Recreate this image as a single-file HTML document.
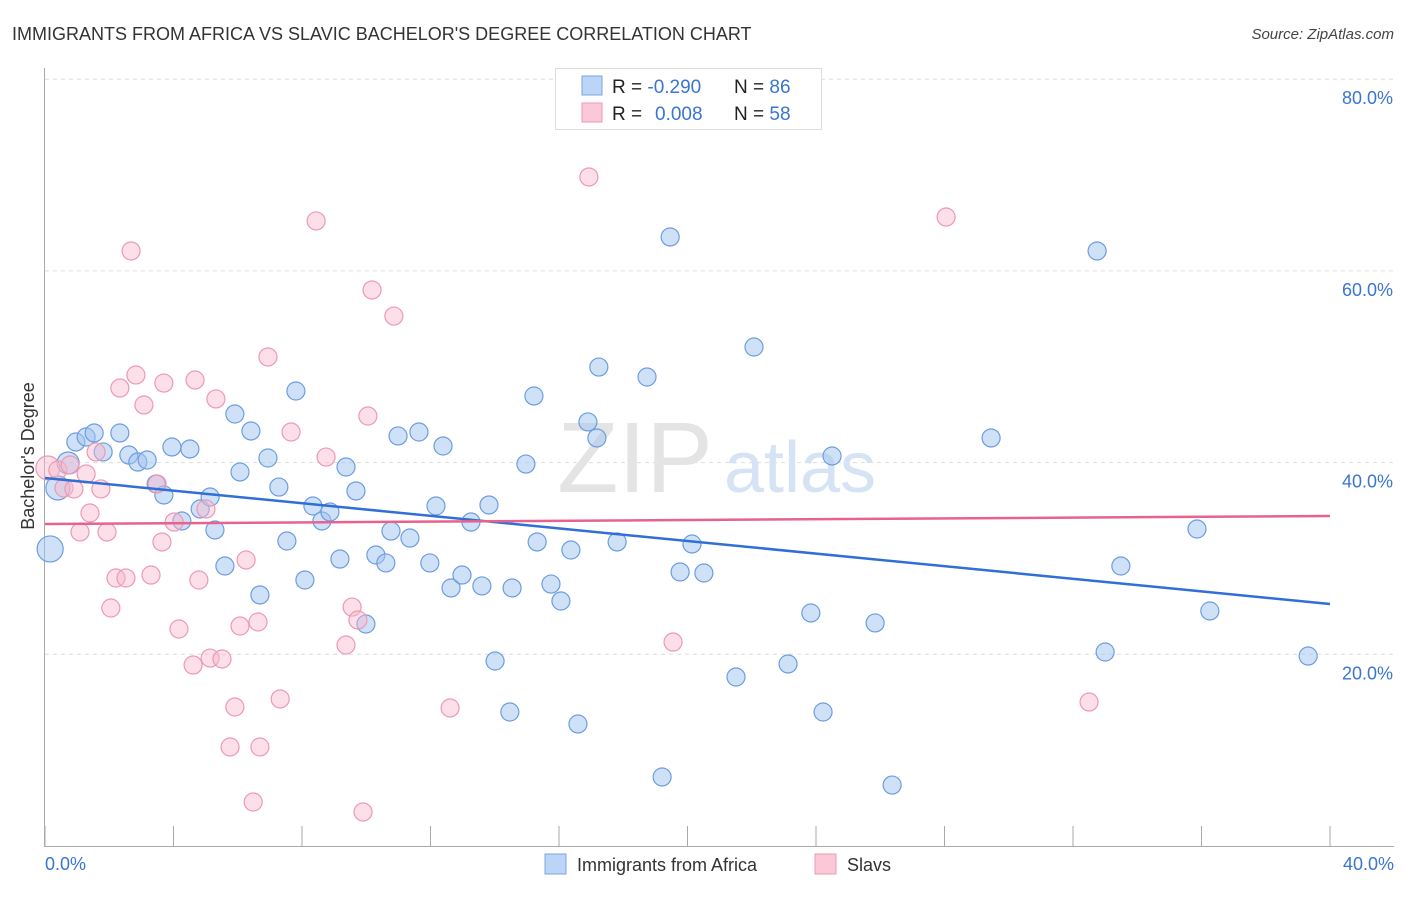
<!DOCTYPE html>
<html><head><meta charset="utf-8"><style>
body{margin:0;background:#fff;font-family:"Liberation Sans",sans-serif;}
svg text{font-family:"Liberation Sans",sans-serif;}
</style></head><body>
<svg id="chart" width="1406" height="892" xmlns="http://www.w3.org/2000/svg">
<text x="12" y="40" font-size="18" fill="#333">IMMIGRANTS FROM AFRICA VS SLAVIC BACHELOR'S DEGREE CORRELATION CHART</text>
<text x="1394" y="39" font-size="15" fill="#444" text-anchor="end" font-style="italic">Source: ZipAtlas.com</text>
<g id="grid"></g>
<text x="635" y="492" font-size="100" fill="#e4e4e4" font-family="Liberation Serif" text-anchor="middle">ZIP</text>
<text x="800" y="492" font-size="72" fill="#d6e3f5" text-anchor="middle">atlas</text>
<g id="pts"></g>
<g id="trends"></g>
<text transform="translate(34,456) rotate(-90)" font-size="18" fill="#333" text-anchor="middle">Bachelor's Degree</text>
<text x="45" y="870" font-size="18" fill="#3a75d0">0.0%</text>
<text x="1394" y="870" font-size="18" fill="#3a75d0" text-anchor="end">40.0%</text>
<g>
<rect x="555.5" y="68.5" width="266" height="61" fill="#fff" stroke="#ddd"/>
<rect x="582" y="76" width="20" height="19" fill="#bcd4f5" stroke="#7aa6e0"/>
<rect x="582" y="103" width="20" height="19" fill="#fbc8d8" stroke="#eb9ab4"/>
<text x="612" y="93" font-size="19" fill="#222">R = <tspan fill="#3a75d0">-0.290</tspan><tspan x="734">N = </tspan><tspan fill="#3a75d0">86</tspan></text>
<text x="612" y="120" font-size="19" fill="#222">R = <tspan x="655" fill="#3a75d0">0.008</tspan><tspan x="734">N = </tspan><tspan fill="#3a75d0">58</tspan></text>
</g>
<g>
<rect x="545" y="854" width="21" height="20" fill="#bcd4f5" stroke="#7aa6e0"/>
<text x="577" y="871" font-size="18" fill="#333">Immigrants from Africa</text>
<rect x="815" y="854" width="21" height="20" fill="#fbc8d8" stroke="#eb9ab4"/>
<text x="847" y="871" font-size="18" fill="#333">Slavs</text>
</g>
</svg>
<script>
const yTicks=[20,40,60,80];
const yTickLabels=["20.0%","40.0%","60.0%","80.0%"];
const xTicks=[0,4,8,12,16,20,24,28,32,36,40];
const blueX=[0.16,0.40,0.72,0.96,1.28,1.53,1.81,2.33,2.61,2.89,3.18,3.46,3.70,3.95,4.26,4.51,4.83,5.14,5.29,5.60,5.91,6.07,6.41,6.69,6.94,7.28,7.53,7.81,8.09,8.34,8.62,8.87,9.18,9.37,9.68,9.99,10.30,10.61,10.77,10.99,11.36,11.64,11.98,12.17,12.39,12.64,12.98,13.26,13.60,13.82,14.01,14.47,14.54,14.97,15.22,15.32,15.75,16.06,16.37,16.59,16.90,17.18,17.24,17.81,18.74,19.21,19.46,19.77,20.14,20.51,21.51,22.07,23.13,23.84,24.22,24.50,25.84,26.37,29.45,32.75,33.00,33.49,35.86,36.26,39.32];
const blueY=[30.99,37.35,39.96,42.15,42.67,43.09,41.11,43.09,40.79,40.06,40.27,37.77,36.62,41.63,33.91,41.42,35.16,36.41,32.97,29.21,45.07,39.02,43.30,26.19,40.48,37.45,31.82,47.47,27.75,35.47,33.91,34.85,29.94,39.54,37.04,23.16,30.36,29.53,32.86,42.78,32.13,43.19,29.53,35.47,41.73,26.92,28.27,33.80,27.13,35.58,19.30,13.98,26.92,39.85,46.95,31.72,27.33,25.56,30.88,12.73,44.24,42.57,49.97,31.72,48.93,7.20,63.54,28.59,31.51,28.48,17.63,52.06,18.99,24.31,13.98,40.69,23.27,6.36,42.57,62.08,20.24,29.21,33.07,24.52,19.82];
const blueBig=[13,12,11];
const pinkX=[0.09,0.40,0.59,0.78,0.90,1.09,1.28,1.40,1.59,1.74,1.93,2.05,2.21,2.33,2.52,2.68,2.83,3.08,3.30,3.49,3.64,3.70,4.02,4.17,4.61,4.67,4.79,5.01,5.14,5.32,5.51,5.76,5.91,6.07,6.26,6.48,6.63,6.69,6.94,7.32,7.66,8.44,8.75,9.37,9.56,9.74,9.90,10.05,10.18,10.86,12.61,16.93,19.55,28.05,32.50];
const pinkY=[39.44,39.23,37.35,39.75,37.25,32.76,38.81,34.74,41.11,37.25,32.76,24.83,27.96,47.78,27.96,62.08,49.14,46.01,28.27,37.77,31.72,48.30,33.80,22.64,18.88,48.62,27.75,35.16,19.61,46.64,19.51,10.33,14.50,22.95,29.84,4.59,23.37,10.33,51.02,15.34,43.19,65.21,40.58,20.97,24.93,23.58,3.55,44.86,58.01,55.29,14.40,69.80,21.28,65.62,15.02];
const pinkBig=[12];
const blueTrend=[38.39,25.25];
const pinkTrend=[33.59,34.43];
const X=v=>45+v/40*1285;
const Y=v=>846-v/20*191.7;
const NS="http://www.w3.org/2000/svg";
function mk(t,a,p){const e=document.createElementNS(NS,t);for(const k in a)e.setAttribute(k,a[k]);p.appendChild(e);return e;}
const grid=document.getElementById('grid');
let ax=mk('line',{x1:44.5,y1:68,x2:44.5,y2:846,stroke:'#aaa'},grid);


let bx=mk('line',{x1:44,y1:846.5,x2:1394,y2:846.5,stroke:'#aaa'},grid);


yTicks.forEach((t,i)=>{
 const g=mk('line',{x1:45,y1:Y(t),x2:1394,y2:Y(t),stroke:'#ddd','stroke-dasharray':'4,4'},grid);
 
 
 const l=mk('text',{x:1393,y:Y(t)+25,'font-size':18,fill:'#3a75d0','text-anchor':'end'},grid);
 l.textContent=yTickLabels[i];
 
 
});
xTicks.forEach(t=>{
 const k=mk('line',{x1:X(t),y1:826,x2:X(t),y2:846,stroke:'#aaa'},grid);
 
 
});
const pts=document.getElementById('pts');
blueX.forEach((v,i)=>{
 const c=mk('circle',{cx:X(v),cy:Y(blueY[i]),r:blueBig[i]||9,fill:'rgba(160,196,240,0.5)',stroke:'#6c9de0','stroke-width':1.2},pts);
 
 
});
pinkX.forEach((v,i)=>{
 const c=mk('circle',{cx:X(v),cy:Y(pinkY[i]),r:pinkBig[i]||9,fill:'rgba(248,184,204,0.45)',stroke:'#ec9ab4','stroke-width':1.2},pts);
 
 
});
const tr=document.getElementById('trends');
const b=mk('line',{x1:X(0),y1:Y(blueTrend[0]),x2:X(40),y2:Y(blueTrend[1]),stroke:'#2f6fd6','stroke-width':2.5},tr);


const p=mk('line',{x1:X(0),y1:Y(pinkTrend[0]),x2:X(40),y2:Y(pinkTrend[1]),stroke:'#e8628f','stroke-width':2.5},tr);


</script>
</body></html>
